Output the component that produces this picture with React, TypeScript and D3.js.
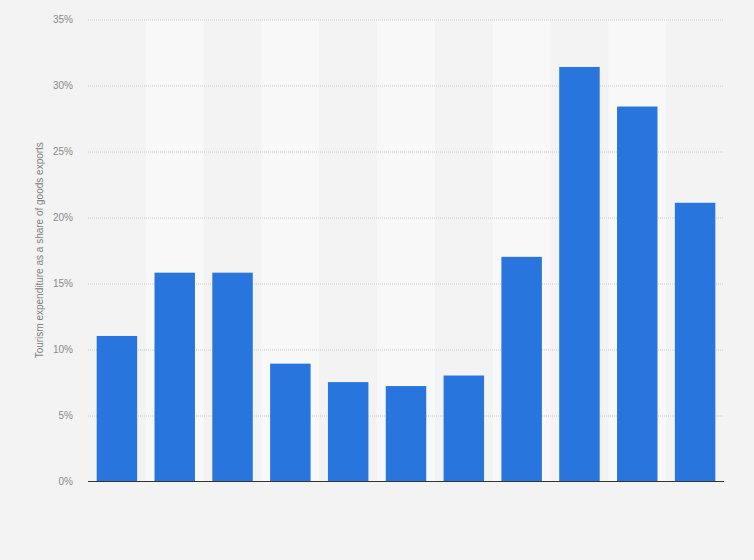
import * as React from 'react';
import * as d3 from 'd3';

const categories: string[] = ['1', '2', '3', '4', '5', '6', '7', '8', '9', '10', '11'];
const shareValues: number[] = [11.0, 15.8, 15.8, 8.9, 7.5, 7.2, 8.0, 17.0, 31.4, 28.4, 21.1];
const yTicks: number[] = [0, 5, 10, 15, 20, 25, 30, 35];
const yTitle = 'Tourism expenditure as a share of goods exports';

export default function App() {
    const svgRef = React.useRef<SVGSVGElement>(null);

    React.useEffect(() => {
        document.body.style.margin = '0';
        const width = 754;
        const height = 560;
        const margin = { top: 19.5, right: 30, bottom: 79, left: 88 };

        const svg = d3.select(svgRef.current)
            .attr('width', width)
            .attr('height', height);
        svg.selectAll('*').remove();

        svg.append('rect')
            .attr('width', width)
            .attr('height', height)
            .attr('fill', '#f3f3f3');

        const drawableWidth = width - margin.left - margin.right;
        const drawableHeight = height - margin.top - margin.bottom;

        const xScale = d3.scaleBand<string>()
            .domain(categories)
            .range([0, drawableWidth])
            .paddingInner(0.3)
            .paddingOuter(0.15);

        const bandScale = d3.scaleBand<string>()
            .domain(categories)
            .range([0, drawableWidth]);

        const yScale = d3.scaleLinear()
            .domain([0, 35])
            .range([drawableHeight, 0]);

        const g = svg.append('g')
            .attr('transform', 'translate(' + margin.left + ',' + margin.top + ')');

        // alternating column bands
        g.selectAll('.band')
            .data(categories.filter((_, i) => i % 2 === 1))
            .enter()
            .append('rect')
            .attr('class', 'band')
            .attr('x', (d) => bandScale(d))
            .attr('y', 0)
            .attr('width', bandScale.bandwidth())
            .attr('height', drawableHeight)
            .attr('fill', '#f8f8f8');

        // grid
        g.selectAll('.grid')
            .data(yTicks.filter((t) => t > 0))
            .enter()
            .append('line')
            .attr('x1', 0)
            .attr('x2', drawableWidth)
            .attr('y1', (d) => Math.round(yScale(d)) + 0.5)
            .attr('y2', (d) => Math.round(yScale(d)) + 0.5)
            .attr('stroke', '#c8c8c8')
            .attr('stroke-dasharray', '1,1');

        // tick labels
        g.selectAll('.ytick')
            .data(yTicks)
            .enter()
            .append('text')
            .attr('x', -15)
            .attr('y', (d) => yScale(d))
            .attr('dy', '0.35em')
            .attr('text-anchor', 'end')
            .attr('font-family', 'Arial, "Liberation Sans", sans-serif')
            .attr('font-size', 10)
            .attr('fill', '#8a8a8a')
            .text((d) => d + '%');

        g.selectAll('.bar')
            .data(shareValues)
            .enter()
            .append('rect')
            .attr('class', 'bar')
            .attr('x', (_, i) => xScale(categories[i]))
            .attr('width', xScale.bandwidth())
            .attr('y', (d) => yScale(d))
            .attr('height', (d) => drawableHeight - yScale(d))
            .attr('fill', '#2876dd');

        g.append('line')
            .attr('x1', 0)
            .attr('x2', drawableWidth)
            .attr('y1', drawableHeight + 0.5)
            .attr('y2', drawableHeight + 0.5)
            .attr('stroke', '#333')
            .attr('stroke-width', 1);

        svg.append('text')
            .attr('transform', 'translate(43,' + (margin.top + drawableHeight / 2) + ') rotate(-90)')
            .attr('text-anchor', 'middle')
            .attr('font-family', 'Arial, "Liberation Sans", sans-serif')
            .attr('font-size', 10)
            .attr('fill', '#808080')
            .text(yTitle);
    }, []);

    return <svg ref={svgRef} style={{ display: 'block' }}></svg>;
}
